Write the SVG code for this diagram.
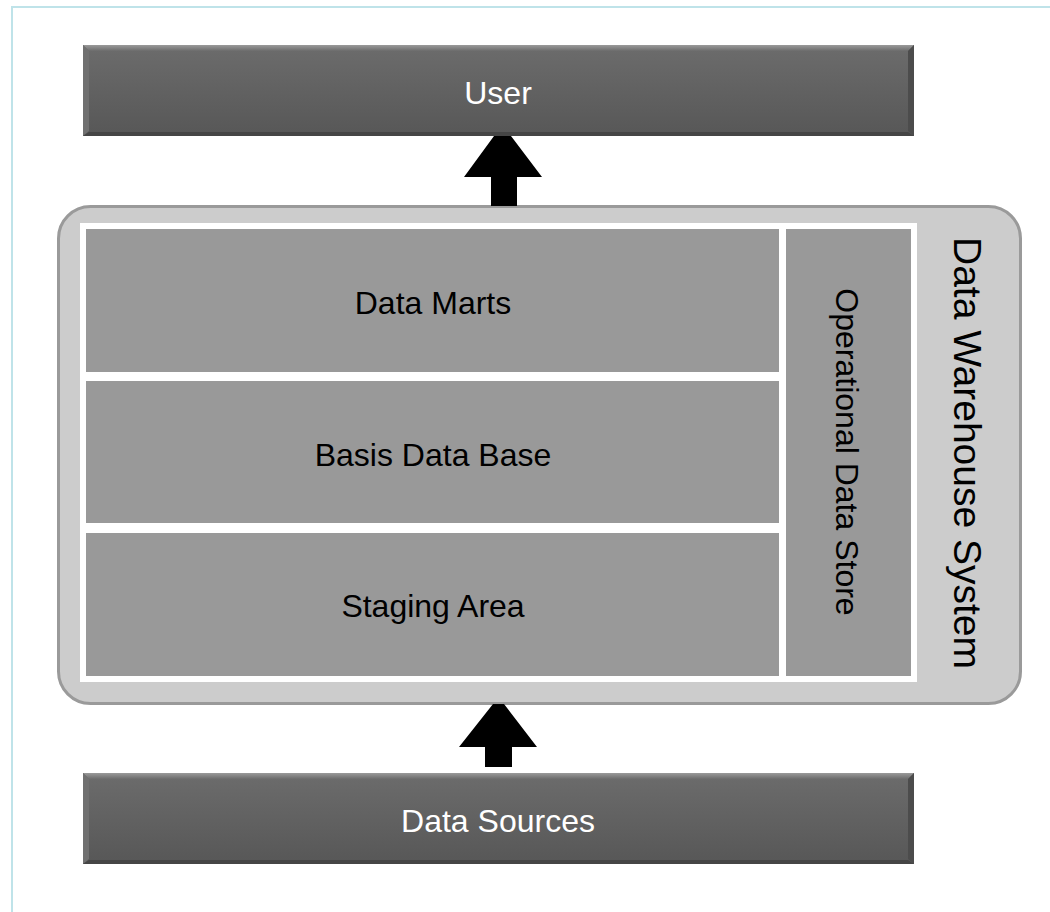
<svg xmlns="http://www.w3.org/2000/svg" width="1050" height="912" viewBox="0 0 1050 912">
  <defs>
    <linearGradient id="boxFill" x1="0" y1="0" x2="0" y2="1">
      <stop offset="0" stop-color="#6c6c6c"/>
      <stop offset="1" stop-color="#575757"/>
    </linearGradient>
    <linearGradient id="bevelTop" x1="0" y1="0" x2="0" y2="1">
      <stop offset="0" stop-color="#9a9a9a"/>
      <stop offset="1" stop-color="#6c6c6c"/>
    </linearGradient>
    <style>
      .box-base { fill: url(#boxFill); }
      .bev-top { fill: url(#bevelTop); }
      .bev-left { fill: #707070; }
      .bev-right { fill: #4c4c4c; }
      .bev-bottom { fill: #454545; }
      .box-label { font-family: "Liberation Sans", Arial, Helvetica, sans-serif; font-size: 32px; fill: #ffffff; text-anchor: middle; }
      .cell { fill: #999999; stroke: #ffffff; stroke-width: 6; }
      .cell-label { font-family: "Liberation Sans", Arial, Helvetica, sans-serif; font-size: 32px; fill: #000000; text-anchor: middle; }
      .container { fill: #cccccc; stroke: #9a9a9a; stroke-width: 3; }
      .container-label { font-family: "Liberation Sans", Arial, Helvetica, sans-serif; font-size: 39px; fill: #000000; text-anchor: middle; }
      .arrow { fill: #000000; }
    </style>
  </defs>

  <rect x="0" y="0" width="1050" height="912" fill="#ffffff"/>
  <rect x="12" y="7" width="1100" height="1000" fill="none" stroke="#bfe3e9" stroke-width="2"/>

  <g id="user">
    <rect class="box-base" x="83" y="45" width="831" height="91"/>
    <polygon class="bev-top" points="83,45 914,45 908,51 89,51"/>
    <polygon class="bev-left" points="83,45 89,51 89,131 83,136"/>
    <polygon class="bev-right" points="914,45 914,136 908,131 908,51"/>
    <polygon class="bev-bottom" points="83,136 914,136 908,132 89,132"/>
    <text class="box-label" x="498" y="104">User</text>
  </g>

  <g id="data-warehouse-system">
    <rect class="container" x="58.5" y="206.5" width="962" height="497" rx="32" ry="32"/>
    <text class="container-label" transform="translate(954,453) rotate(90)">Data Warehouse System</text>
  </g>

  <g id="data-marts">
    <rect class="cell" x="83" y="226" width="699" height="149"/>
    <text class="cell-label" x="433" y="314">Data Marts</text>
  </g>

  <g id="basis-data-base">
    <rect class="cell" x="83" y="378" width="699" height="148"/>
    <text class="cell-label" x="433" y="466">Basis Data Base</text>
  </g>

  <g id="staging-area">
    <rect class="cell" x="83" y="530" width="699" height="149"/>
    <text class="cell-label" x="433" y="617">Staging Area</text>
  </g>

  <g id="operational-data-store">
    <rect class="cell" x="783" y="226" width="131" height="453"/>
    <text class="cell-label" transform="translate(836,452) rotate(90)">Operational Data Store</text>
  </g>

  <g id="data-sources">
    <rect class="box-base" x="83" y="773" width="831" height="91"/>
    <polygon class="bev-top" points="83,773 914,773 908,779 89,779"/>
    <polygon class="bev-left" points="83,773 89,779 89,859 83,864"/>
    <polygon class="bev-right" points="914,773 914,864 908,859 908,779"/>
    <polygon class="bev-bottom" points="83,864 914,864 908,860 89,860"/>
    <text class="box-label" x="498" y="832">Data Sources</text>
  </g>

  <g id="connectors">
    <polygon class="arrow" points="494,136 511,136 542,177 517,177 517,206 491,206 491,177 464,177"/>
    <polygon class="arrow" points="493,704 504,704 537,747 512,747 512,767 485,767 485,747 459,747"/>
  </g>
</svg>
